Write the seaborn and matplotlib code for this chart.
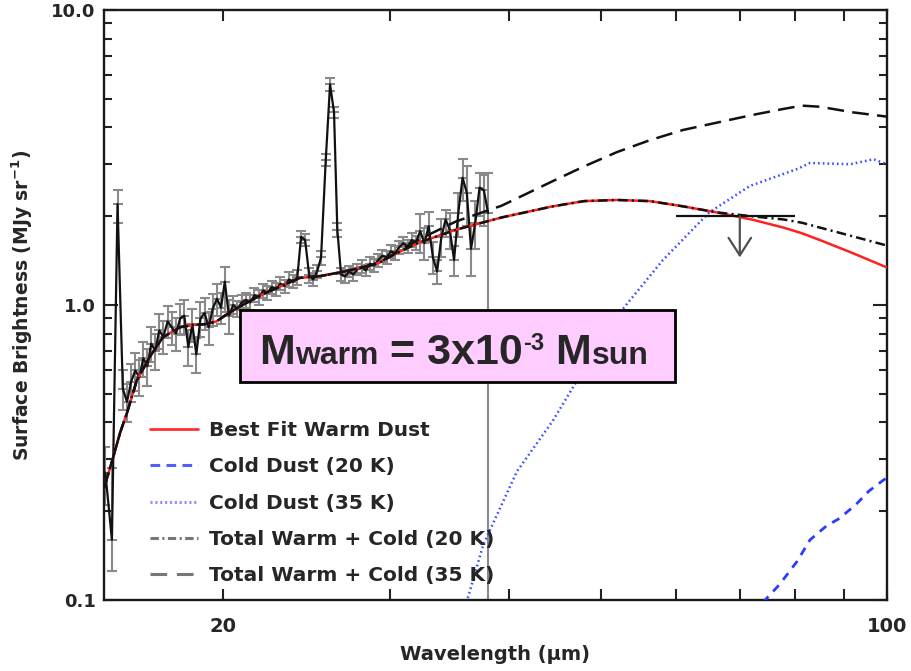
import matplotlib
matplotlib.use("Agg")
import numpy as np
import matplotlib.pyplot as plt
import seaborn as sns
from matplotlib.lines import Line2D
from matplotlib.patches import Rectangle
from matplotlib.ticker import FixedLocator, FixedFormatter, NullFormatter, NullLocator

# ---------------------------------------------------------------- data
# IRS spectrum (wavelength in micron, surface brightness in MJy/sr)
spec_wave = [15.05, 15.29, 15.50, 15.70, 15.86, 16.02, 16.18, 16.34, 16.50, 16.66,
             16.82, 16.98, 17.15, 17.32, 17.50, 17.68, 17.86, 18.04, 18.22, 18.40,
             18.58, 18.76, 18.95, 19.14, 19.33, 19.52, 19.72, 19.92, 20.10, 20.30,
             20.51, 20.72, 20.94, 21.16, 21.38, 21.60, 21.83, 22.06, 22.29, 22.52,
             22.76, 23.00, 23.24, 23.48, 23.73, 23.96, 24.18, 24.42, 24.66, 24.90,
             25.14, 25.38, 25.67, 25.94, 26.19, 26.40, 26.64, 26.90, 27.17, 27.44,
             27.72, 28.00, 28.28, 28.57, 28.86, 29.15, 29.45, 29.75, 30.05, 30.36,
             30.67, 30.98, 31.30, 31.62, 31.94, 32.27, 32.60, 32.94, 33.28, 33.62,
             33.97, 34.32, 34.67, 35.03, 35.39, 35.76, 36.13, 36.50, 36.88, 37.26,
             37.65, 38.04]
spec_flux = [0.27, 0.16, 2.20, 0.52, 0.47, 0.55, 0.60, 0.57, 0.66, 0.62,
             0.74, 0.70, 0.82, 0.78, 0.88, 0.84, 0.80, 0.90, 0.92, 0.72,
             0.86, 0.68, 0.90, 0.94, 0.84, 0.97, 1.05, 0.98, 1.20, 0.92,
             1.00, 0.97, 1.02, 1.04, 1.02, 1.08, 1.06, 1.12, 1.10, 1.15,
             1.13, 1.18, 1.16, 1.22, 1.20, 1.24, 1.70, 1.66, 1.26, 1.22,
             1.30, 1.45, 3.10, 5.60, 4.50, 1.80, 1.27, 1.25, 1.30, 1.27,
             1.32, 1.35, 1.31, 1.38, 1.36, 1.42, 1.47, 1.45, 1.52, 1.50,
             1.57, 1.62, 1.58, 1.66, 1.63, 1.78, 1.62, 1.85, 1.45, 1.30,
             1.70, 1.95, 1.80, 1.42, 2.05, 2.70, 2.40, 1.55, 1.90, 2.50,
             2.45, 2.05]
spec_err_lo = [0.06, 0.035, 0.30, 0.08, 0.07, 0.08, 0.09, 0.08, 0.09, 0.09,
               0.10, 0.10, 0.11, 0.10, 0.11, 0.11, 0.10, 0.11, 0.12, 0.10,
               0.11, 0.09, 0.12, 0.12, 0.11, 0.12, 0.13, 0.12, 0.25, 0.12,
               0.07, 0.06, 0.06, 0.06, 0.06, 0.06, 0.06, 0.06, 0.06, 0.06,
               0.06, 0.06, 0.06, 0.07, 0.06, 0.07, 0.08, 0.08, 0.07, 0.06,
               0.07, 0.08, 0.15, 0.30, 0.20, 0.10, 0.06, 0.06, 0.06, 0.06,
               0.06, 0.07, 0.06, 0.07, 0.07, 0.07, 0.07, 0.07, 0.08, 0.08,
               0.08, 0.08, 0.08, 0.09, 0.09, 0.28, 0.20, 0.22, 0.18, 0.12,
               0.25, 0.25, 0.25, 0.17, 0.35, 0.45, 0.55, 0.30, 0.35, 0.50,
               0.60, 1.96]
spec_err_hi = [0.06, 0.12, 0.25, 0.08, 0.07, 0.08, 0.09, 0.08, 0.09, 0.09,
               0.10, 0.10, 0.11, 0.10, 0.11, 0.11, 0.10, 0.11, 0.12, 0.10,
               0.11, 0.09, 0.12, 0.12, 0.11, 0.12, 0.13, 0.12, 0.15, 0.12,
               0.07, 0.06, 0.06, 0.06, 0.06, 0.06, 0.06, 0.06, 0.06, 0.06,
               0.06, 0.06, 0.06, 0.07, 0.06, 0.07, 0.08, 0.08, 0.07, 0.06,
               0.07, 0.08, 0.15, 0.30, 0.20, 0.10, 0.06, 0.06, 0.06, 0.06,
               0.06, 0.07, 0.06, 0.07, 0.07, 0.07, 0.07, 0.07, 0.08, 0.08,
               0.08, 0.08, 0.08, 0.09, 0.09, 0.25, 0.20, 0.22, 0.18, 0.12,
               0.25, 0.15, 0.25, 0.17, 0.35, 0.42, 0.55, 0.30, 0.35, 0.30,
               0.30, 0.75]

# model SEDs on a common wavelength grid
model_wave = [15.0, 15.33, 15.6, 15.85, 16.24, 16.75, 17.3, 18.03, 18.6, 19.2,
              19.7, 20.2, 20.8, 21.8, 22.9, 24.1, 25.4, 26.9, 28.0, 29.2,
              30.5, 32.2, 35.2, 39.3, 44.5, 48.0, 52.0, 56.3, 61.0, 66.2,
              72.0, 77.8, 81.4, 85.0, 92.0, 100.0]
warm_flux = [0.239, 0.303, 0.37, 0.428, 0.555, 0.665, 0.778, 0.841, 0.855, 0.862,
             0.88, 0.93, 0.984, 1.07, 1.15, 1.235, 1.255, 1.30, 1.34, 1.39,
             1.50, 1.63, 1.80, 1.98, 2.16, 2.25, 2.27, 2.25, 2.16, 2.06,
             1.95, 1.83, 1.75, 1.66, 1.50, 1.34]
total20_flux = [0.239, 0.303, 0.37, 0.428, 0.555, 0.665, 0.778, 0.841, 0.855, 0.862,
                0.88, 0.93, 0.984, 1.07, 1.15, 1.235, 1.255, 1.30, 1.34, 1.39,
                1.50, 1.63, 1.80, 1.98, 2.16, 2.25, 2.27, 2.25, 2.16, 2.06,
                2.00, 1.95, 1.90, 1.83, 1.71, 1.59]
total35_flux = [0.239, 0.303, 0.37, 0.428, 0.555, 0.665, 0.778, 0.841, 0.855, 0.862,
                0.88, 0.93, 0.984, 1.07, 1.15, 1.235, 1.255, 1.30, 1.34, 1.39,
                1.51, 1.67, 1.92, 2.17, 2.63, 2.95, 3.30, 3.62, 3.92, 4.15,
                4.40, 4.62, 4.74, 4.70, 4.50, 4.35]

cold20_wave = [74.0, 77.1, 80.4, 83.0, 86.3, 89.1, 92.8, 95.7, 99.3, 100.0]
cold20_flux = [0.098, 0.113, 0.135, 0.160, 0.178, 0.189, 0.211, 0.234, 0.256, 0.259]

cold35_wave = [36.1, 37.6, 40.8, 44.5, 47.2, 52.6, 58.1, 65.0, 71.7, 80.4,
               83.0, 91.5, 96.8, 100.0]
cold35_flux = [0.098, 0.154, 0.273, 0.405, 0.555, 0.96, 1.42, 2.06, 2.53, 2.89,
               3.03, 3.00, 3.12, 3.00]

# MIPS 70 micron upper limit
limit_wave = 70.0
limit_flux = 2.0
limit_halfwidth = 10.0
limit_arrow_to = 1.45

legend_labels = ["Best Fit Warm Dust", "Cold Dust (20 K)", "Cold Dust (35 K)",
                 "Total Warm + Cold (20 K)", "Total Warm + Cold (35 K)"]

x_ticks = [20, 30, 40, 50, 60, 70, 80, 90, 100]
x_tick_labels = ["20", "", "", "", "", "", "", "", "100"]
y_ticks = [0.1, 1.0, 10.0]
y_tick_labels = ["0.1", "1.0", "10.0"]
y_minor = [0.2, 0.3, 0.4, 0.5, 0.6, 0.7, 0.8, 0.9, 2, 3, 4, 5, 6, 7, 8, 9]

# ---------------------------------------------------------------- style
sns.set_style("ticks")
plt.rcParams["font.family"] = ["DejaVu Sans"]
plt.rcParams["font.weight"] = "bold"
plt.rcParams["axes.labelweight"] = "bold"
plt.rcParams["mathtext.default"] = "bf"
plt.rcParams["lines.scale_dashes"] = False

W, H = 912, 671
fig = plt.figure(figsize=(W / 100, H / 100), dpi=100)
fig.patch.set_facecolor("white")
ax = fig.add_axes([104 / W, 1 - 600 / H, (887 - 104) / W, 590 / H])
ax.set_facecolor("white")
ax.set_xscale("log")
ax.set_yscale("log")

# spectrum: grey error bars with a black connecting line
ax.errorbar(spec_wave, spec_flux, yerr=[spec_err_lo, spec_err_hi], fmt="_",
            color="#8a8a8a", ecolor="#8a8a8a", elinewidth=1.5, capsize=3.5,
            capthick=1.5, ms=7, mew=1.5, zorder=2)
sns.lineplot(x=spec_wave, y=spec_flux, ax=ax, color="#111111", lw=1.6,
             sort=False, legend=False, zorder=3)

# model curves
sns.lineplot(x=cold20_wave, y=cold20_flux, ax=ax, color="#2a3cff", lw=2.0,
             linestyle=(0, (6, 5)), legend=False, zorder=4)
sns.lineplot(x=cold35_wave, y=cold35_flux, ax=ax, color="#3a4cff", lw=1.8,
             linestyle=(0, (1.2, 2.2)), legend=False, zorder=4)
sns.lineplot(x=model_wave, y=warm_flux, ax=ax, color="#ff2020", lw=1.8,
             legend=False, zorder=5)
sns.lineplot(x=model_wave, y=total20_flux, ax=ax, color="#111111", lw=1.8,
             linestyle=(0, (7, 3, 1.5, 3)), legend=False, zorder=6)
sns.lineplot(x=model_wave, y=total35_flux, ax=ax, color="#111111", lw=1.8,
             linestyle=(0, (12, 6)), legend=False, zorder=6)

# 70 micron upper limit
ax.errorbar([limit_wave], [limit_flux], xerr=[[limit_halfwidth], [limit_halfwidth]],
            fmt="none", ecolor="#111111", elinewidth=1.6, capsize=0, zorder=6)
ax.annotate("", xy=(limit_wave, limit_arrow_to), xytext=(limit_wave, limit_flux),
            arrowprops=dict(arrowstyle="->,head_length=0.7,head_width=0.45",
                            color="#505050", lw=1.6, shrinkA=0, shrinkB=0,
                            mutation_scale=18), zorder=6)

ax.set_xlim(15, 100)
ax.set_ylim(0.1, 10)

# ticks
ax.xaxis.set_major_locator(FixedLocator(x_ticks))
ax.xaxis.set_major_formatter(FixedFormatter(x_tick_labels))
ax.xaxis.set_minor_locator(NullLocator())
ax.yaxis.set_major_locator(FixedLocator(y_ticks))
ax.yaxis.set_major_formatter(FixedFormatter(y_tick_labels))
ax.yaxis.set_minor_locator(FixedLocator(y_minor))
ax.yaxis.set_minor_formatter(NullFormatter())
ax.tick_params(which="both", direction="in", top=True, right=True,
               color="#222222", width=1.5)
ax.tick_params(axis="x", which="major", length=8, pad=12, labelsize=14)
ax.tick_params(axis="y", which="major", length=10, pad=6, labelsize=13)
ax.tick_params(axis="y", which="minor", length=6)
for sp in ax.spines.values():
    sp.set_linewidth(1.7)
    sp.set_color("#1a1a1a")

ax.set_xlabel("Wavelength (\u03bcm)", fontsize=14, labelpad=7)
ax.set_ylabel("Surface Brightness (MJy sr$^{-1}$)", fontsize=13.5, labelpad=12)

# legend
handles = [
    Line2D([], [], color="#ff3030", lw=2.0),
    Line2D([], [], color="#5060ff", lw=2.2, ls=(0, (7, 4.5))),
    Line2D([], [], color="#8f8fff", lw=2.2, ls=(0, (1.5, 2))),
    Line2D([], [], color="#777777", lw=2.2, ls=(0, (6, 2.5, 1.5, 2.5))),
    Line2D([], [], color="#777777", lw=2.2, ls=(0, (12, 7))),
]
ax.legend(handles, legend_labels, loc="upper left",
          bbox_to_anchor=((150 - 104) / 783, (600 - 421) / 590),
          frameon=False, fontsize=14.5, handlelength=2.4, handletextpad=0.55,
          labelspacing=0.86, borderpad=0, borderaxespad=0)

# warm dust mass annotation box
box = Rectangle((240 / W, 1 - 382 / H), 435 / W, 72 / H, transform=fig.transFigure,
                facecolor="#ffccff", edgecolor="black", lw=2.0, zorder=10)
fig.add_artist(box)

runs = [("M", 31, 0), ("warm", 23, 0), (" = 3x10", 31, 0), ("-3", 17, 14),
        (" M", 31, 0), ("sun", 23, 0)]
renderer = fig.canvas.get_renderer()
x_px = 259
base_px = H - 364
for txt, size, rise in runs:
    t = fig.text(x_px / W, (base_px + rise) / H, txt, fontsize=size,
                 fontweight="bold", family=["Liberation Sans"], va="baseline",
                 ha="left", zorder=11)
    x_px = t.get_window_extent(renderer=renderer).x1

fig.savefig("out.png", dpi=100, facecolor="white")
